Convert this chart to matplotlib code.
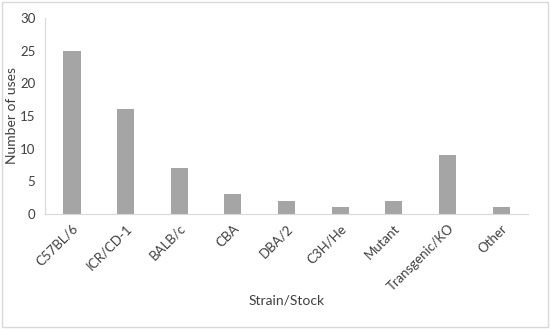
import matplotlib.pyplot as plt
import numpy as np
from matplotlib.patches import Rectangle

strains = ["C57BL/6", "ICR/CD-1", "BALB/c", "CBA", "DBA/2", "C3H/He",
           "Mutant", "Transgenic/KO", "Other"]
uses = [25, 16, 7, 3, 2, 1, 2, 9, 1]

plt.rcParams["font.family"] = ["Lato", "DejaVu Sans"]

fig = plt.figure(figsize=(5.5, 3.29), dpi=100)
ax = fig.add_axes([0.082, 0.35, 0.878, 0.595])

x = np.arange(len(strains))
ax.bar(x, uses, width=0.32, color="#a5a5a5", zorder=2)
ax.set_xlim(-0.5, len(strains) - 0.5)
ax.set_ylim(0, 30)
ax.set_yticks(range(0, 31, 5))
ax.set_xticks(x)
ax.set_xticklabels(strains, rotation=45, ha="right", va="top",
                   rotation_mode="anchor", fontsize=9.5, color="#404040")
ax.tick_params(axis="both", length=0, labelsize=9.5, labelcolor="#404040")
ax.tick_params(axis="x", pad=6)
ax.tick_params(axis="y", pad=7)
for side in ("top", "right"):
    ax.spines[side].set_visible(False)
ax.spines["left"].set_color("#d9d9d9")
ax.spines["bottom"].set_color("#d9d9d9")
ax.set_ylabel("Number of uses", fontsize=10, color="#404040", labelpad=1)
ax.set_xlabel("Strain/Stock", fontsize=10, color="#404040", labelpad=1)

fig.patches.append(Rectangle((0.004, 0.006), 0.992, 0.988, transform=fig.transFigure,
                             fill=False, edgecolor="#d9d9d9", linewidth=1.0))

fig.savefig("out.png", dpi=100)
